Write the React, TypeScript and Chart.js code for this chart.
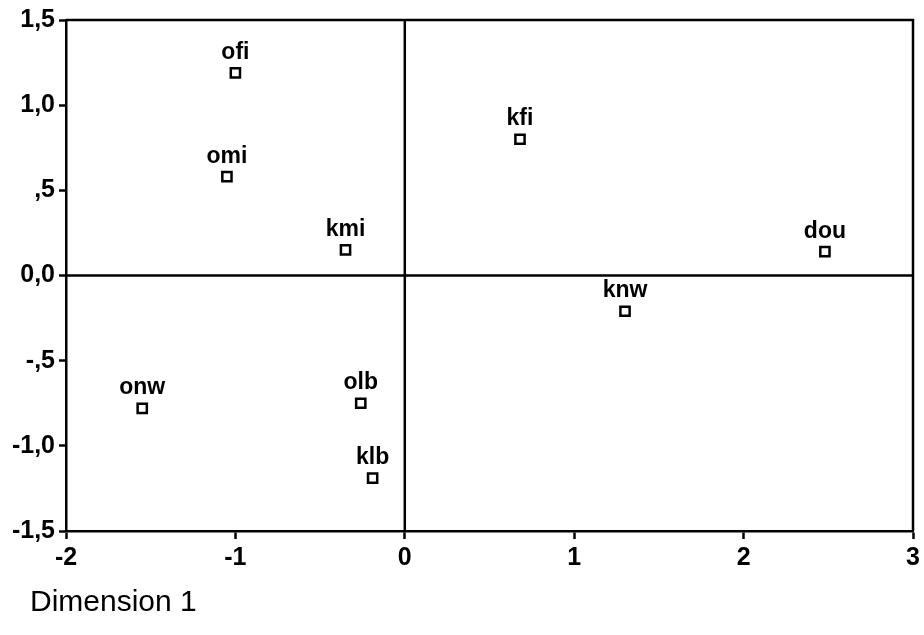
import React, { useEffect, useRef } from "react";
import { Chart, registerables } from "chart.js";

Chart.register(...registerables);

// Category labels and their coordinates on the two dimensions
const categories = ["ofi", "omi", "kmi", "kfi", "dou", "knw", "onw", "olb", "klb"];
const dim1 = [-1.0, -1.05, -0.35, 0.68, 2.48, 1.3, -1.55, -0.26, -0.19];
const dim2 = [1.19, 0.58, 0.15, 0.8, 0.14, -0.21, -0.78, -0.75, -1.19];

const xTicks = [-2, -1, 0, 1, 2, 3];
const yTicks = [-1.5, -1, -0.5, 0, 0.5, 1, 1.5];

const FONT = "'Liberation Sans', Arial, sans-serif";

// European-style decimal labels: 0,0  ,5  -,5  1,0
function fmtY(v: number): string {
  let s = v.toFixed(1).replace(".", ",");
  if (v !== 0 && Math.abs(v) < 1) s = s.replace("0,", ",");
  return s;
}

const framePlugin = {
  id: "frameAndOrigin",
  beforeDatasetsDraw(chart: any) {
    const { ctx, chartArea, scales } = chart;
    const { left, right, top, bottom } = chartArea;
    ctx.save();
    ctx.strokeStyle = "#000";
    ctx.lineWidth = 2.5;
    ctx.beginPath();
    ctx.moveTo(left, top);
    ctx.lineTo(right, top);
    ctx.lineTo(right, bottom);
    const x0 = scales.x.getPixelForValue(0);
    const y0 = scales.y.getPixelForValue(0);
    ctx.moveTo(x0, top);
    ctx.lineTo(x0, bottom);
    ctx.moveTo(left, y0);
    ctx.lineTo(right, y0);
    ctx.stroke();
    ctx.restore();
  },
  afterDatasetsDraw(chart: any) {
    const { ctx } = chart;
    const meta = chart.getDatasetMeta(0);
    ctx.save();
    ctx.fillStyle = "#000";
    ctx.font = `bold 23px ${FONT}`;
    ctx.textAlign = "center";
    ctx.textBaseline = "alphabetic";
    meta.data.forEach((pt: any, i: number) => {
      ctx.fillText(categories[i], pt.x, pt.y - 14);
    });
    ctx.font = `30px ${FONT}`;
    ctx.textAlign = "left";
    ctx.fillText("Dimension 1", 30, 611);
    ctx.restore();
  },
};

export default function App() {
  const ref = useRef<HTMLCanvasElement | null>(null);

  useEffect(() => {
    document.body.style.margin = "0";
    const canvas = ref.current;
    if (!canvas) return;
    const chart = new Chart(canvas, {
      type: "scatter",
      data: {
        datasets: [
          {
            data: dim1.map((x, i) => ({ x, y: dim2[i] })),
            pointStyle: "rect",
            pointRadius: 6.5,
            pointBorderWidth: 2.5,
            pointBorderColor: "#000",
            pointBackgroundColor: "#fff",
          },
        ],
      },
      options: {
        animation: false,
        responsive: false,
        layout: { padding: { top: 20, right: 11, left: 0, bottom: 0 } },
        plugins: { legend: { display: false }, tooltip: { enabled: false } },
        scales: {
          x: {
            type: "linear",
            min: -2,
            max: 3,
            afterBuildTicks: (s: any) => {
              s.ticks = xTicks.map((value) => ({ value }));
            },
            afterFit: (s: any) => {
              s.height = 104;
            },
            border: { display: true, color: "#000", width: 2.5 },
            grid: {
              display: true,
              drawOnChartArea: false,
              drawTicks: true,
              tickLength: 8,
              tickColor: "#000",
              tickWidth: 2.5,
            },
            ticks: {
              color: "#000",
              padding: 4,
              maxRotation: 0,
              font: { family: FONT, size: 25, weight: "bold" },
              callback: (v: any) => String(v),
            },
          },
          y: {
            type: "linear",
            min: -1.5,
            max: 1.5,
            afterBuildTicks: (s: any) => {
              s.ticks = yTicks.map((value) => ({ value }));
            },
            afterFit: (s: any) => {
              s.width = 66;
            },
            border: { display: true, color: "#000", width: 2.5 },
            grid: {
              display: true,
              drawOnChartArea: false,
              drawTicks: true,
              tickLength: 7,
              tickColor: "#000",
              tickWidth: 2.5,
            },
            ticks: {
              color: "#000",
              padding: 4,
              font: { family: FONT, size: 25, weight: "bold" },
              callback: (v: any) => fmtY(Number(v)),
            },
          },
        },
      },
      plugins: [framePlugin],
    });
    return () => chart.destroy();
  }, []);

  return (
    <div style={{ width: 924, height: 635, background: "#fff" }}>
      <canvas ref={ref} width={924} height={635} />
    </div>
  );
}
